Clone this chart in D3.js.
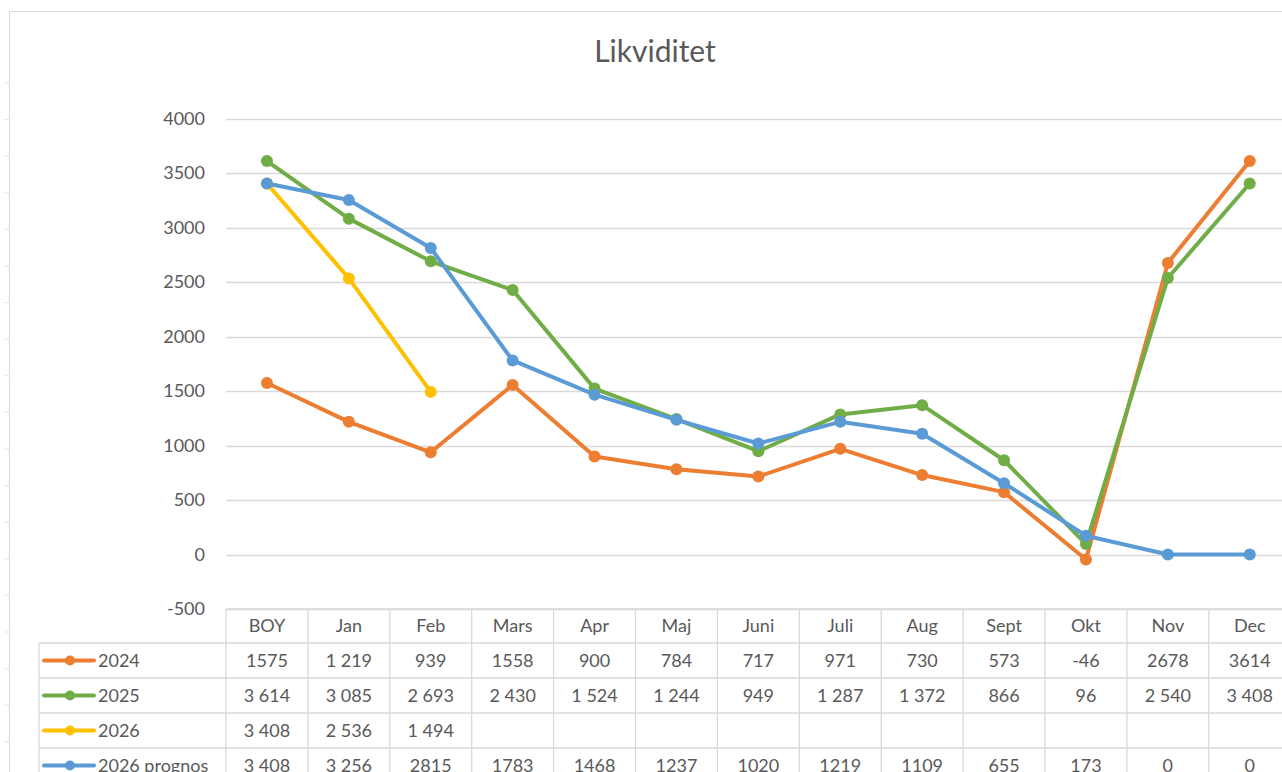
<!DOCTYPE html>
<html>
<head>
<meta charset="utf-8">
<script src="https://cdn.jsdelivr.net/npm/d3@7"></script>
<style>
  html, body { margin: 0; padding: 0; background: #fff; }
  svg { display: block; font-family: Lato, "Open Sans", sans-serif; }
</style>
</head>
<body>
<svg id="chart" width="1282" height="772"></svg>
<script>
// Likviditet — Excel-style line chart with data table underneath.

const categories = ['BOY', 'Jan', 'Feb', 'Mars', 'Apr', 'Maj', 'Juni', 'Juli', 'Aug', 'Sept', 'Okt', 'Nov', 'Dec'];

const values2024    = [1575, 1219, 939, 1558, 900, 784, 717, 971, 730, 573, -46, 2678, 3614];
const values2025    = [3614, 3085, 2693, 2430, 1524, 1244, 949, 1287, 1372, 866, 96, 2540, 3408];
const values2026    = [3408, 2536, 1494, null, null, null, null, null, null, null, null, null, null];
const valuesPrognos = [3408, 3256, 2815, 1783, 1468, 1237, 1020, 1219, 1109, 655, 173, 0, 0];

// Table cells as shown in the sheet (formatting differs per cell).
const labels2024    = ['1575', '1 219', '939', '1558', '900', '784', '717', '971', '730', '573', '-46', '2678', '3614'];
const labels2025    = ['3 614', '3 085', '2 693', '2 430', '1 524', '1 244', '949', '1 287', '1 372', '866', '96', '2 540', '3 408'];
const labels2026    = ['3 408', '2 536', '1 494', '', '', '', '', '', '', '', '', '', ''];
const labelsPrognos = ['3 408', '3 256', '2815', '1783', '1468', '1237', '1020', '1219', '1109', '655', '173', '0', '0'];

const seriesNames = ['2024', '2025', '2026', '2026 prognos'];
const yTicks = [-500, 0, 500, 1000, 1500, 2000, 2500, 3000, 3500, 4000];

const series = [
  { name: seriesNames[0], values: values2024,    labels: labels2024,    colour: '#ED7D31' },
  { name: seriesNames[1], values: values2025,    labels: labels2025,    colour: '#70AD47' },
  { name: seriesNames[2], values: values2026,    labels: labels2026,    colour: '#FFC000' },
  { name: seriesNames[3], values: valuesPrognos, labels: labelsPrognos, colour: '#5B9BD5' },
];

const svg = d3.select('#chart');
const grid = '#d9d9d9';
const textCol = '#595959';

const plotLeft = 226, colW = 81.9;
const plotRight = plotLeft + colW * categories.length;
const legendLeft = 39;
const headerTop = 609, headerH = 34, rowH = 35;

const x = d3.scaleBand().domain(categories).range([plotLeft, plotRight]);
const y = d3.scaleLinear().domain([-500, 4000]).range([headerTop, 119]);

// faint sheet row marks left of the chart frame
for (let ty = 83; ty < 772; ty += 36.6) {
  svg.append('line')
    .attr('x1', 5).attr('x2', 9).attr('y1', ty).attr('y2', ty)
    .attr('stroke', '#e3e3e3').attr('stroke-width', 1);
}

// chart frame
svg.append('rect')
  .attr('x', 9.5).attr('y', 11.5).attr('width', 1400).attr('height', 900)
  .attr('fill', '#fff').attr('stroke', grid).attr('stroke-width', 1);

// title
svg.append('text')
  .attr('x', 655).attr('y', 62)
  .attr('text-anchor', 'middle')
  .attr('font-size', 30).attr('fill', textCol)
  .text('Likviditet');

// gridlines + y labels
svg.append('g')
  .selectAll('line')
  .data(yTicks)
  .join('line')
  .attr('x1', plotLeft).attr('x2', plotRight)
  .attr('y1', d => Math.round(y(d)) + 0.5).attr('y2', d => Math.round(y(d)) + 0.5)
  .attr('stroke', grid).attr('stroke-width', 1.3);

svg.append('g')
  .selectAll('text')
  .data(yTicks)
  .join('text')
  .attr('x', 205).attr('y', d => y(d) + 6)
  .attr('text-anchor', 'end')
  .attr('font-size', 18).attr('fill', textCol)
  .text(d => d);

// data table
const table = svg.append('g').attr('stroke', grid).attr('stroke-width', 1.3);
const rowTops = series.map((_, i) => headerTop + headerH + i * rowH);
const tableBottom = 800;

// horizontal rules
table.append('line')
  .attr('x1', plotLeft).attr('x2', plotRight)
  .attr('y1', headerTop).attr('y2', headerTop);
rowTops.forEach(t => {
  table.append('line')
    .attr('x1', legendLeft).attr('x2', plotRight)
    .attr('y1', t).attr('y2', t);
});
// vertical rules
categories.forEach(c => {
  table.append('line')
    .attr('x1', x(c)).attr('x2', x(c))
    .attr('y1', headerTop).attr('y2', tableBottom);
});
table.append('line')
  .attr('x1', plotRight).attr('x2', plotRight)
  .attr('y1', headerTop).attr('y2', tableBottom);
table.append('line')
  .attr('x1', legendLeft).attr('x2', legendLeft)
  .attr('y1', rowTops[0]).attr('y2', tableBottom);

// header text
svg.append('g')
  .selectAll('text')
  .data(categories)
  .join('text')
  .attr('x', d => x(d) + x.bandwidth() / 2)
  .attr('y', headerTop + headerH / 2 + 6)
  .attr('text-anchor', 'middle')
  .attr('font-size', 18).attr('fill', textCol)
  .text(d => d);

// rows: legend key + cell values
series.forEach((s, i) => {
  const cy = rowTops[i] + rowH / 2;
  const g = svg.append('g');
  g.append('line')
    .attr('x1', 44).attr('x2', 94).attr('y1', cy).attr('y2', cy)
    .attr('stroke', s.colour).attr('stroke-width', 4).attr('stroke-linecap', 'round');
  g.append('circle')
    .attr('cx', 70).attr('cy', cy).attr('r', 5)
    .attr('fill', s.colour);
  g.append('text')
    .attr('x', 98).attr('y', cy + 6)
    .attr('font-size', 18).attr('fill', textCol)
    .text(s.name);
  g.selectAll('text.cell')
    .data(s.labels.map((l, j) => ({ l, c: categories[j] })))
    .join('text')
    .attr('class', 'cell')
    .attr('x', d => x(d.c) + x.bandwidth() / 2)
    .attr('y', cy + 6)
    .attr('text-anchor', 'middle')
    .attr('font-size', 18).attr('fill', textCol)
    .text(d => d.l);
});

// lines + markers (later series drawn on top)
const line = d3.line()
  .defined(d => d.v != null)
  .x(d => x(d.c) + x.bandwidth() / 2)
  .y(d => y(d.v));

series.forEach(s => {
  const pts = s.values.map((v, j) => ({ v, c: categories[j] }));
  const g = svg.append('g');
  g.append('path')
    .datum(pts)
    .attr('d', line)
    .attr('fill', 'none')
    .attr('stroke', s.colour)
    .attr('stroke-width', 4)
    .attr('stroke-linejoin', 'round')
    .attr('stroke-linecap', 'round');
  g.selectAll('circle')
    .data(pts.filter(d => d.v != null))
    .join('circle')
    .attr('cx', d => x(d.c) + x.bandwidth() / 2)
    .attr('cy', d => y(d.v))
    .attr('r', 6)
    .attr('fill', s.colour);
});
</script>
</body>
</html>
